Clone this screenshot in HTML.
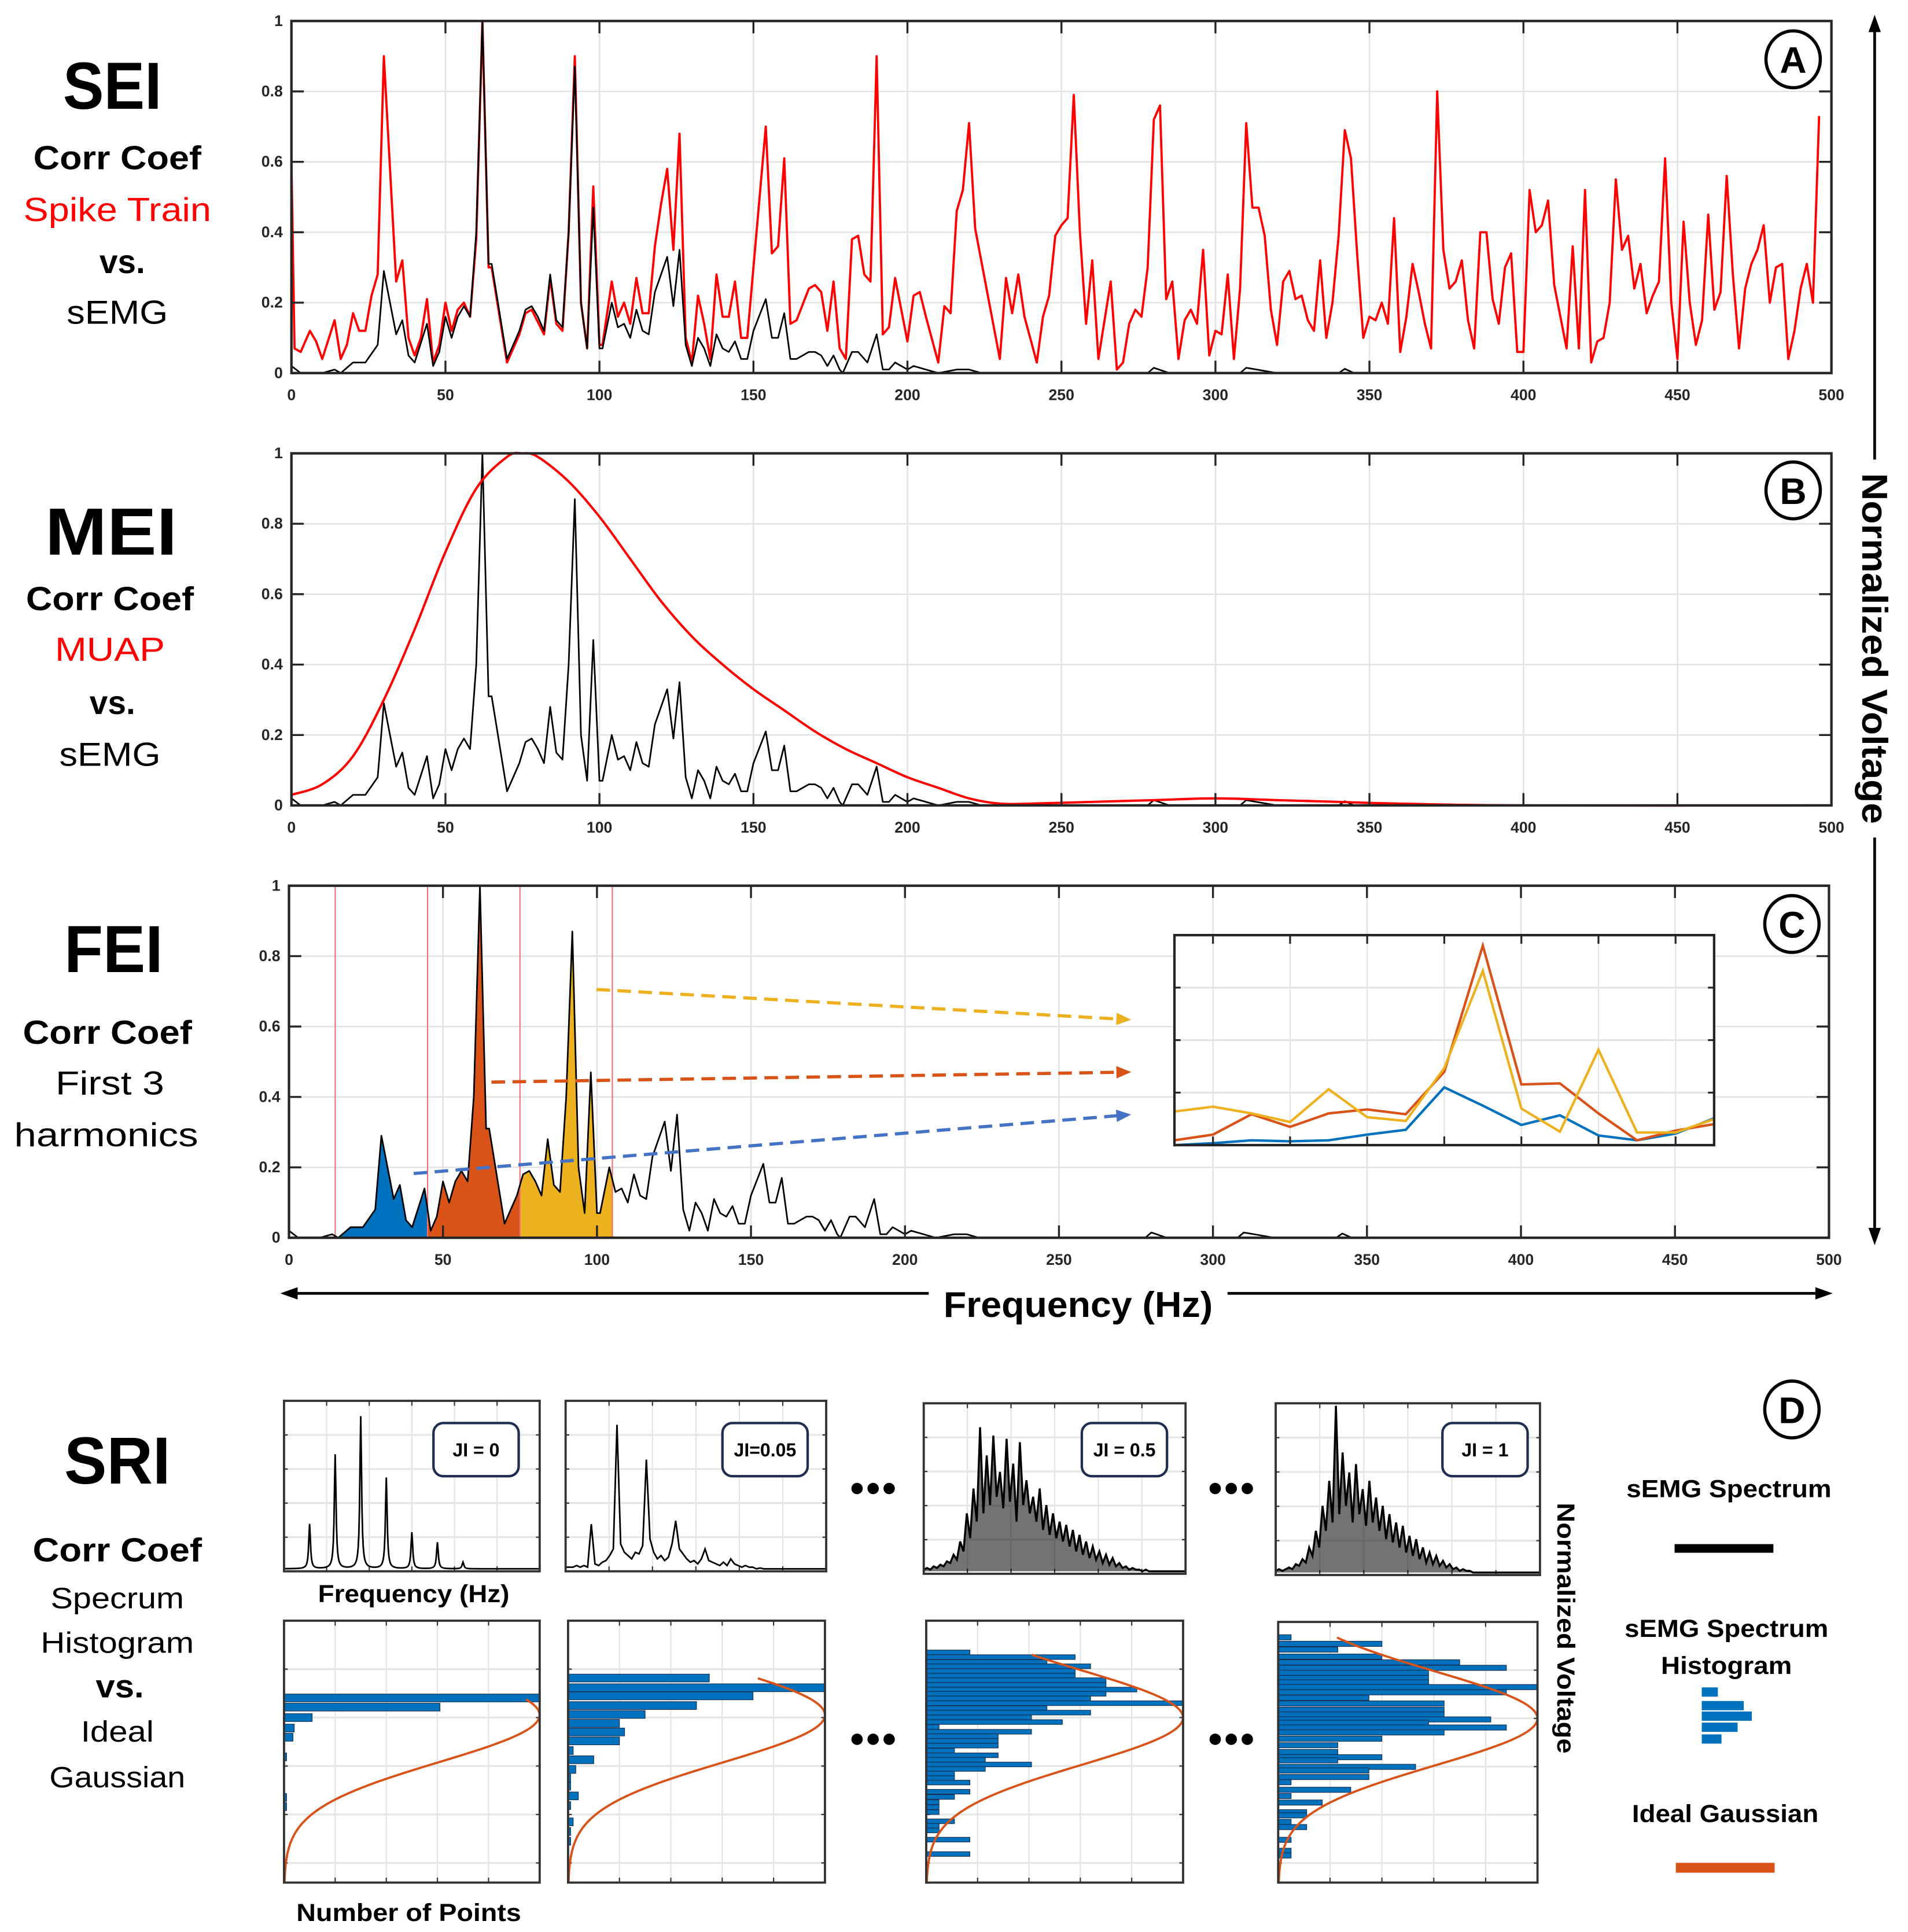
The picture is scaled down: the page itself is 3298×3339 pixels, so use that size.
<!DOCTYPE html>
<html><head><meta charset="utf-8"><title>Spectral correlation indices figure</title>
<style>
html,body{margin:0;padding:0;background:#fff;}
svg{display:block;}
text{font-family:"Liberation Sans",sans-serif;}
</style></head>
<body>
<svg id="fig" xmlns="http://www.w3.org/2000/svg" width="3298" height="3339" viewBox="0 0 1545 1564" preserveAspectRatio="none">
<rect x="0" y="0" width="1545" height="1564" fill="#fff"/>

<g text-anchor="middle" font-weight="bold">
<text x="91" y="88" font-size="54" textLength="80" lengthAdjust="spacingAndGlyphs">SEI</text>
<text x="95" y="137" font-size="27" textLength="136" lengthAdjust="spacingAndGlyphs">Corr Coef</text>
<text x="95" y="179" font-size="27" font-weight="normal" fill="#ff0000" textLength="152" lengthAdjust="spacingAndGlyphs">Spike Train</text>
<text x="99" y="221" font-size="27" textLength="37" lengthAdjust="spacingAndGlyphs">vs.</text>
<text x="95" y="262" font-size="27" font-weight="normal" textLength="82" lengthAdjust="spacingAndGlyphs">sEMG</text>
</g>
<g text-anchor="middle" font-weight="bold">
<text x="90" y="449" font-size="54" textLength="107" lengthAdjust="spacingAndGlyphs">MEI</text>
<text x="89" y="494" font-size="27" textLength="136" lengthAdjust="spacingAndGlyphs">Corr Coef</text>
<text x="89" y="535" font-size="27" font-weight="normal" fill="#ff0000" textLength="89" lengthAdjust="spacingAndGlyphs">MUAP</text>
<text x="91" y="578" font-size="27" textLength="37" lengthAdjust="spacingAndGlyphs">vs.</text>
<text x="89" y="620" font-size="27" font-weight="normal" textLength="82" lengthAdjust="spacingAndGlyphs">sEMG</text>
</g>
<g text-anchor="middle" font-weight="bold">
<text x="92" y="787" font-size="54" textLength="80" lengthAdjust="spacingAndGlyphs">FEI</text>
<text x="87" y="845" font-size="27" textLength="137" lengthAdjust="spacingAndGlyphs">Corr Coef</text>
<text x="89" y="886" font-size="27" font-weight="normal" textLength="88" lengthAdjust="spacingAndGlyphs">First 3</text>
<text x="86" y="928" font-size="27" font-weight="normal" textLength="149" lengthAdjust="spacingAndGlyphs">harmonics</text>
</g>
<g text-anchor="middle" font-weight="bold">
<text x="95" y="1201" font-size="54" textLength="86" lengthAdjust="spacingAndGlyphs">SRI</text>
<text x="95" y="1264" font-size="27" textLength="137" lengthAdjust="spacingAndGlyphs">Corr Coef</text>
<text x="95" y="1302" font-size="24" font-weight="normal" textLength="108" lengthAdjust="spacingAndGlyphs">Specrum</text>
<text x="95" y="1338" font-size="24" font-weight="normal" textLength="124" lengthAdjust="spacingAndGlyphs">Histogram</text>
<text x="97" y="1374" font-size="26" textLength="39" lengthAdjust="spacingAndGlyphs">vs.</text>
<text x="95" y="1410" font-size="24" font-weight="normal" textLength="59" lengthAdjust="spacingAndGlyphs">Ideal</text>
<text x="95" y="1447" font-size="24" font-weight="normal" textLength="110" lengthAdjust="spacingAndGlyphs">Gaussian</text>
</g>

<g id="plots"></g>

<g>
<line x1="1518" y1="22" x2="1518" y2="998" stroke="#000" stroke-width="2.2"/>
<polygon points="1518,12 1513,26 1523,26" fill="#000"/>
<polygon points="1518,1008 1513,994 1523,994" fill="#000"/>
<rect x="1503" y="372" width="30" height="306" fill="#fff"/>
<text transform="translate(1508,525) rotate(90)" text-anchor="middle" font-size="29" font-weight="bold" textLength="284" lengthAdjust="spacingAndGlyphs">Normalized Voltage</text>
</g>
<g>
<line x1="236" y1="1047" x2="1474" y2="1047" stroke="#000" stroke-width="2.2"/>
<polygon points="227,1047 241,1042 241,1052" fill="#000"/>
<polygon points="1484,1047 1470,1042 1470,1052" fill="#000"/>
<rect x="752" y="1030" width="242" height="40" fill="#fff"/>
<text x="873" y="1066" text-anchor="middle" font-size="29" font-weight="bold" textLength="218" lengthAdjust="spacingAndGlyphs">Frequency (Hz)</text>
</g>

<g><ellipse cx="1452" cy="48" rx="22" ry="23" fill="#fff" stroke="#000" stroke-width="2.6"/><text x="1452" y="59" text-anchor="middle" font-size="30" font-weight="bold">A</text></g>
<g><ellipse cx="1452" cy="397" rx="22" ry="23" fill="#fff" stroke="#000" stroke-width="2.6"/><text x="1452" y="408" text-anchor="middle" font-size="30" font-weight="bold">B</text></g>
<g><ellipse cx="1451" cy="748" rx="22" ry="23" fill="#fff" stroke="#000" stroke-width="2.6"/><text x="1451" y="759" text-anchor="middle" font-size="30" font-weight="bold">C</text></g>
<g><ellipse cx="1451" cy="1141" rx="22" ry="23" fill="#fff" stroke="#000" stroke-width="2.6"/><text x="1451" y="1152" text-anchor="middle" font-size="30" font-weight="bold">D</text></g>

<text x="335" y="1297" text-anchor="middle" font-size="20" font-weight="bold" textLength="155" lengthAdjust="spacingAndGlyphs">Frequency (Hz)</text>
<text x="331" y="1555" text-anchor="middle" font-size="20" font-weight="bold" textLength="182" lengthAdjust="spacingAndGlyphs">Number of Points</text>
<text transform="translate(1261,1318) rotate(90)" text-anchor="middle" font-size="20" font-weight="bold" textLength="203" lengthAdjust="spacingAndGlyphs">Normalized Voltage</text>
<text x="1400" y="1212" text-anchor="middle" font-size="20" font-weight="bold" textLength="166" lengthAdjust="spacingAndGlyphs">sEMG Spectrum</text>
<rect x="1356" y="1250" width="80" height="7" fill="#000"/>
<text x="1398" y="1325" text-anchor="middle" font-size="20" font-weight="bold" textLength="165" lengthAdjust="spacingAndGlyphs">sEMG Spectrum</text>
<text x="1398" y="1355" text-anchor="middle" font-size="20" font-weight="bold" textLength="106" lengthAdjust="spacingAndGlyphs">Histogram</text>
<g fill="#0072BD">
<rect x="1378" y="1366" width="13" height="7.5"/><rect x="1378" y="1377" width="34" height="7.5"/><rect x="1378" y="1385.5" width="40.5" height="7.5"/><rect x="1378" y="1394.5" width="29" height="7.5"/><rect x="1378" y="1404" width="16" height="7.5"/>
</g>
<text x="1397" y="1475" text-anchor="middle" font-size="20" font-weight="bold" textLength="151" lengthAdjust="spacingAndGlyphs">Ideal Gaussian</text>
<rect x="1357" y="1508" width="80" height="8" fill="#D95319"/>
<g fill="#000">
<circle cx="694" cy="1205" r="4.6"/><circle cx="707" cy="1205" r="4.6"/><circle cx="720" cy="1205" r="4.6"/>
<circle cx="984" cy="1205" r="4.6"/><circle cx="997" cy="1205" r="4.6"/><circle cx="1010" cy="1205" r="4.6"/>
<circle cx="694" cy="1408" r="4.6"/><circle cx="707" cy="1408" r="4.6"/><circle cx="720" cy="1408" r="4.6"/>
<circle cx="984" cy="1408" r="4.6"/><circle cx="997" cy="1408" r="4.6"/><circle cx="1010" cy="1408" r="4.6"/>
</g>
</svg>

<script>
// ---------- data ----------
const xTickVals = [0,50,100,150,200,250,300,350,400,450,500];
const xTickLabels = ['0','50','100','150','200','250','300','350','400','450','500'];
const yTickVals = [0,0.2,0.4,0.6,0.8,1];
const yTickLabels = ['0','0.2','0.4','0.6','0.8','1'];

const semgFreq = [0,3,10,14,16,20,24,28,30,34,36,38,40,44,46,48,50,52,54,56,58,60,62,64,65,70,74,76,78,80,82,84,86,88,90,92,94,96,98,100,101,104,106,108,110,112,114,116,118,122,124,126,128,130,132,134,136,138,140,142,144,146,148,150,154,156,158,160,162,164,168,170,172,174,176,178,179,182,184,187,190,192,194,196,200,202,206,210,216,220,224,250,278,280,285,308,310,320,340,342,345,500];
const semgVal  = [0.02,0,0,0.01,0,0.03,0.03,0.08,0.29,0.11,0.15,0.05,0.03,0.14,0.02,0.06,0.16,0.10,0.16,0.19,0.16,0.40,1.0,0.31,0.31,0.04,0.12,0.18,0.19,0.16,0.12,0.28,0.15,0.13,0.40,0.87,0.20,0.07,0.47,0.07,0.07,0.20,0.13,0.14,0.10,0.18,0.12,0.11,0.23,0.33,0.19,0.35,0.08,0.02,0.10,0.07,0.02,0.11,0.07,0.06,0.09,0.04,0.04,0.12,0.21,0.10,0.10,0.17,0.04,0.04,0.06,0.06,0.05,0.02,0.05,0.01,0,0.06,0.06,0.03,0.11,0.01,0.01,0.03,0.01,0.02,0.01,0,0.01,0.01,0,0,0,0.015,0,0,0.015,0,0,0.012,0,0];

const spikeFreq = [0,1,3,6,8,10,14,16,18,20,22,24,26,28,30,34,36,38,40,42,44,46,48,50,52,54,56,58,60,62,64,65,70,74,76,78,82,84,86,88,90,92,94,96,98,100,101,104,106,108,110,112,114,116,118,120,122,124,126,128,130,132,134,136,138,140,142,144,146,148,150,154,156,158,160,162,164,168,170,172,174,176,178,180,182,184,186,188,190,192,194,196,200,202,204,206,210,212,214,216,218,220,222,230,232,234,236,238,242,244,246,248,250,252,254,256,258,260,262,266,268,270,272,274,276,278,280,282,284,286,288,290,292,294,296,298,300,302,304,306,308,310,312,314,316,318,320,322,324,326,328,330,332,334,336,338,340,342,344,346,348,350,352,354,356,358,360,362,364,366,368,370,372,374,376,378,380,382,384,386,388,390,392,394,396,398,400,402,404,406,408,410,412,414,416,418,420,422,424,426,428,430,432,434,436,438,440,442,444,446,448,450,452,454,456,458,460,462,464,466,468,470,472,474,476,478,480,482,484,486,488,490,492,494,496,500];
const spikeVal  = [0.6,0.07,0.06,0.12,0.09,0.04,0.15,0.04,0.08,0.17,0.12,0.12,0.22,0.28,0.9,0.26,0.32,0.1,0.05,0.1,0.21,0.03,0.08,0.2,0.12,0.18,0.2,0.16,0.38,1.0,0.3,0.3,0.03,0.11,0.17,0.18,0.11,0.27,0.14,0.12,0.4,0.9,0.2,0.07,0.53,0.08,0.08,0.26,0.16,0.2,0.14,0.27,0.17,0.17,0.36,0.48,0.58,0.35,0.68,0.1,0.03,0.22,0.14,0.04,0.28,0.16,0.16,0.26,0.1,0.1,0.3,0.7,0.34,0.36,0.61,0.14,0.15,0.24,0.25,0.23,0.12,0.26,0.07,0.04,0.38,0.39,0.28,0.26,0.9,0.11,0.13,0.27,0.09,0.22,0.23,0.16,0.03,0.19,0.17,0.46,0.52,0.71,0.41,0.04,0.27,0.17,0.28,0.16,0.03,0.16,0.22,0.39,0.42,0.44,0.79,0.4,0.14,0.32,0.04,0.26,0.01,0.03,0.14,0.18,0.16,0.3,0.72,0.76,0.21,0.26,0.04,0.15,0.18,0.14,0.35,0.05,0.12,0.11,0.28,0.04,0.24,0.71,0.47,0.47,0.39,0.18,0.08,0.26,0.29,0.21,0.22,0.15,0.12,0.32,0.1,0.2,0.39,0.69,0.61,0.34,0.1,0.16,0.15,0.2,0.14,0.44,0.06,0.16,0.31,0.23,0.14,0.07,0.8,0.35,0.24,0.26,0.32,0.15,0.07,0.4,0.4,0.21,0.14,0.3,0.34,0.06,0.06,0.52,0.4,0.42,0.49,0.25,0.16,0.07,0.36,0.07,0.52,0.03,0.09,0.1,0.2,0.55,0.35,0.39,0.24,0.31,0.17,0.22,0.26,0.61,0.2,0.04,0.43,0.2,0.08,0.15,0.45,0.18,0.23,0.56,0.28,0.07,0.24,0.31,0.35,0.42,0.2,0.3,0.31,0.04,0.12,0.24,0.31,0.2,0.73];

const muapFreq = [0,10,20,30,40,50,60,70,75,80,90,100,110,120,130,140,150,160,170,180,190,200,210,220,230,240,260,280,300,320,340,360,400,500];
const muapVal  = [0.03,0.06,0.14,0.3,0.5,0.72,0.9,0.99,1,0.99,0.92,0.82,0.7,0.58,0.48,0.4,0.33,0.27,0.21,0.16,0.12,0.08,0.05,0.02,0.005,0.005,0.01,0.015,0.02,0.015,0.01,0.005,0,0];

const harmonicBounds = [15,45,75,105];
const insetOrange = [0.023,0.05,0.147,0.087,0.151,0.17,0.147,0.349,0.95,0.289,0.294,0.151,0.023,0.069,0.1];
const insetYellow = [0.16,0.183,0.151,0.11,0.266,0.133,0.115,0.367,0.83,0.174,0.064,0.454,0.06,0.06,0.124];
const insetBlue   = [0,0.009,0.023,0.018,0.023,0.05,0.073,0.275,0.188,0.096,0.142,0.046,0.023,0.055,0.128];

const ji0Pos = [0.1,0.2,0.3,0.4,0.5,0.6,0.7];
const ji0Amp = [0.27,0.69,0.92,0.55,0.22,0.16,0.04];
const ji005Spec = [.01,.01,.01,.02,.01,.02,.01,.27,.03,.02,.04,.05,.08,.12,.87,.15,.1,.08,.06,.1,.09,.14,.66,.18,.1,.06,.08,.05,.07,.15,.29,.12,.09,.06,.04,.05,.03,.06,.12,.05,.04,.03,.02,.04,.02,.06,.03,.02,.01,.02,.01,.01,0,.005,0,0,0,0,0,0,0,0,0,0,0,0,0,0,0,0,0,0];
const ji05Spec = [.01,.02,.01,.03,.02,.04,.03,.06,.05,.1,.07,.18,.12,.35,.2,.5,.3,.87,.35,.7,.4,.82,.45,.6,.38,.8,.42,.65,.3,.78,.4,.55,.35,.45,.3,.5,.25,.4,.22,.35,.2,.3,.18,.28,.15,.25,.12,.22,.1,.18,.08,.15,.07,.12,.05,.1,.04,.08,.03,.05,.02,.03,.01,.02,.01,.01,0,.01,0,0,0,0,0,0,0,0,0,0,0,0];
const ji1Spec = [.01,.02,.01,.02,.03,.02,.05,.04,.08,.06,.15,.1,.25,.15,.4,.25,.55,.3,1.0,.35,.72,.4,.6,.3,.65,.35,.5,.28,.55,.3,.45,.25,.4,.2,.35,.18,.3,.15,.28,.12,.22,.1,.2,.08,.15,.06,.12,.05,.1,.04,.07,.03,.05,.02,.03,.01,.02,.01,.01,0,0,0,0,0,0,0,0,0,0,0,0,0,0,0,0,0,0,0,0,0];

const hist0Bins = [0.72,0.685,0.645,0.605,0.57,0.495,0.34,0.305];
const hist0Counts = [1.0,0.61,0.11,0.04,0.035,0.01,0.01,0.01];
const hist005Bins = [0.796,0.759,0.728,0.691,0.657,0.623,0.59,0.556,0.519,0.484,0.447,0.414,0.383,0.346,0.309,0.247,0.21,0.173];
const hist005Counts = [0.55,1.0,0.72,0.5,0.3,0.2,0.22,0.2,0.02,0.1,0.03,0.01,0.01,0.04,0.01,0.02,0.01,0.01];
const hist05Bins = [.888,.870,.851,.835,.817,.799,.782,.764,.746,.730,.712,.694,.675,.658,.640,.622,.603,.585,.568,.550,.532,.513,.495,.478,.460,.443,.425,.408,.391,.356,.336,.316,.297,.278,.243,.226,.208,.173,.118];
const hist05Counts = [.17,.58,.47,.64,.58,.58,.70,.70,.82,.70,.64,1.0,.47,.64,.41,.53,.05,.41,.28,.28,.28,.11,.28,.23,.41,.23,.11,.11,.17,.17,.11,.05,.05,.05,.11,.05,.05,.17,.17];
const hist1Bins = [.951,.926,.904,.877,.855,.834,.815,.795,.778,.760,.740,.719,.697,.673,.655,.636,.623,.605,.586,.562,.537,.511,.491,.479,.454,.440,.415,.395,.366,.342,.317,.280,.268,.243,.223,.174,.132,.114];
const hist1Counts = [.05,.4,.23,.4,.7,.88,.58,.58,.58,1.0,.88,.35,.64,.64,.64,.82,.58,.88,.64,.4,.23,.23,.4,.23,.53,.35,.35,.05,.28,.05,.17,.11,.11,.05,.11,.05,.05,.05];
const gaussMu = [0.36,0.36,0.37,0.37];
const gaussSigma = [0.18,0.18,0.18,0.18];
const gaussStart = [0.3,0.22,0.13,0.06];

// ---------- helpers ----------
const NS = 'http://www.w3.org/2000/svg';
const root = document.getElementById('plots');
function mk(parent, tag, attrs){ const e=document.createElementNS(NS,tag); for(const k in attrs) e.setAttribute(k,attrs[k]); parent.appendChild(e); return e; }
function interp(fs, vs, f){ for(let i=0;i<fs.length-1;i++){ if(f>=fs[i]&&f<=fs[i+1]){ const t=(f-fs[i])/(fs[i+1]-fs[i]||1); return vs[i]+t*(vs[i+1]-vs[i]); } } return vs[vs.length-1]; }

function axes(L,R,T,B,name){
  const g = mk(root,'g',{});
  
  
  const sx = f => L + f/500*(R-L);
  const sy = v => B - v*(B-T);
  const grid = mk(g,'g',{stroke:'#e3e3e3','stroke-width':1.2});
  
  
  xTickVals.forEach((f,i)=>{
    if(i>0 && i<xTickVals.length-1) mk(grid,'line',{x1:sx(f),x2:sx(f),y1:T,y2:B});
    const tl = mk(g,'text',{x:sx(f),y:B+22,'text-anchor':'middle','font-size':12.5,'font-weight':'bold',fill:'#262626'});
    tl.textContent = xTickLabels[i];
    
    
  });
  yTickVals.forEach((v,i)=>{
    if(i>0 && i<yTickVals.length-1) mk(grid,'line',{x1:L,x2:R,y1:sy(v),y2:sy(v)});
    const tl = mk(g,'text',{x:L-7,y:sy(v)+4,'text-anchor':'end','font-size':12.5,'font-weight':'bold',fill:'#262626'});
    tl.textContent = yTickLabels[i];
    
    
  });
  const marks = mk(root,'g',{});
  
  
  return {g, marks, sx, sy, L,R,T,B, name};
}
function finishAxes(ax){
  const tk = mk(root,'g',{stroke:'#262626','stroke-width':1.6});
  
  
  xTickVals.forEach(f=>{ mk(tk,'line',{x1:ax.sx(f),x2:ax.sx(f),y1:ax.B,y2:ax.B-10}); mk(tk,'line',{x1:ax.sx(f),x2:ax.sx(f),y1:ax.T,y2:ax.T+10}); });
  yTickVals.forEach(v=>{ mk(tk,'line',{x1:ax.L,x2:ax.L+10,y1:ax.sy(v),y2:ax.sy(v)}); mk(tk,'line',{x1:ax.R,x2:ax.R-10,y1:ax.sy(v),y2:ax.sy(v)}); });
  const box = mk(root,'rect',{x:ax.L,y:ax.T,width:ax.R-ax.L,height:ax.B-ax.T,fill:'none',stroke:'#262626','stroke-width':2});
  
  
}
function line(ax, fs, vs, color, w, name){
  const pts = fs.map((f,i)=>ax.sx(f).toFixed(2)+','+ax.sy(vs[i]).toFixed(2)).join(' ');
  const p = mk(ax.marks,'polyline',{points:pts,fill:'none',stroke:color,'stroke-width':w,'stroke-linejoin':'round'});
  
  
}
function smoothLine(ax, fs, vs, color, w, name){
  const P = fs.map((f,i)=>[ax.sx(f), ax.sy(vs[i])]);
  let d = 'M'+P[0][0].toFixed(2)+','+P[0][1].toFixed(2);
  for(let i=0;i<P.length-1;i++){
    const p0=P[Math.max(0,i-1)], p1=P[i], p2=P[i+1], p3=P[Math.min(P.length-1,i+2)];
    const c1=[p1[0]+(p2[0]-p0[0])/6, p1[1]+(p2[1]-p0[1])/6];
    const c2=[p2[0]-(p3[0]-p1[0])/6, p2[1]-(p3[1]-p1[1])/6];
    d += ' C'+c1[0].toFixed(2)+','+c1[1].toFixed(2)+' '+c2[0].toFixed(2)+','+c2[1].toFixed(2)+' '+p2[0].toFixed(2)+','+p2[1].toFixed(2);
  }
  const p = mk(ax.marks,'path',{d:d,fill:'none',stroke:color,'stroke-width':w});
  
  
}

// Panel A
const axA = axes(236,1483,17,302,'panel-a-sei');
line(axA, spikeFreq, spikeVal, '#ff0000', 1.8, 'spike-train-line');
line(axA, semgFreq, semgVal, '#000', 1.3, 'semg-spectrum-line-a');
finishAxes(axA);

// Panel B
const axB = axes(236,1483,367,652,'panel-b-mei');
line(axB, semgFreq, semgVal, '#000', 1.3, 'semg-spectrum-line-b');
smoothLine(axB, muapFreq, muapVal, '#ff0000', 1.9, 'muap-line');
finishAxes(axB);

// Panel C
const axC = axes(234,1481,717,1002,'panel-c-fei');
const fillColors = ['#0072BD','#D95319','#EDB120'];
const fillNames = ['harmonic-1-fill','harmonic-2-fill','harmonic-3-fill'];
for(let h=0; h<harmonicBounds.length-1; h++){
  const a=harmonicBounds[h], b=harmonicBounds[h+1];
  const fs=[a]; semgFreq.forEach(f=>{ if(f>a&&f<b) fs.push(f); }); fs.push(b);
  let pts = axC.sx(a)+','+axC.sy(0)+' ';
  pts += fs.map(f=>axC.sx(f).toFixed(2)+','+axC.sy(interp(semgFreq,semgVal,f)).toFixed(2)).join(' ');
  pts += ' '+axC.sx(b)+','+axC.sy(0);
  const poly = mk(axC.marks,'polygon',{points:pts,fill:fillColors[h]});
  
  
}
harmonicBounds.forEach(f=>{
  const ln = mk(axC.marks,'line',{x1:axC.sx(f),x2:axC.sx(f),y1:axC.T,y2:axC.B,stroke:'#f07070','stroke-width':1});
  
  
});
line(axC, semgFreq, semgVal, '#000', 1.3, 'semg-spectrum-line-c');
finishAxes(axC);

const arrows = [[483,801,907,825,'#EDB120','yellow-dashed-arrow'],[398,876,907,868,'#D95319','orange-dashed-arrow'],[335,950,907,903,'#4472C4','blue-dashed-arrow']];
arrows.forEach(a=>{
  const g = mk(root,'g',{});
  
  
  mk(g,'line',{x1:a[0],y1:a[1],x2:a[2],y2:a[3],stroke:a[4],'stroke-width':2.6,'stroke-dasharray':'11 6'});
  const ang=Math.atan2(a[3]-a[1],a[2]-a[0]); const tx=a[2]+9*Math.cos(ang), ty=a[3]+9*Math.sin(ang);
  const p1=[tx-12*Math.cos(ang)+5*Math.sin(ang), ty-12*Math.sin(ang)-5*Math.cos(ang)];
  const p2=[tx-12*Math.cos(ang)-5*Math.sin(ang), ty-12*Math.sin(ang)+5*Math.cos(ang)];
  mk(g,'polygon',{points:tx+','+ty+' '+p1[0]+','+p1[1]+' '+p2[0]+','+p2[1],fill:a[4]});
});

(function(){
  const L=951,R=1388,T=757,B=927;
  const g = mk(root,'g',{});
  
  
  mk(g,'rect',{x:L,y:T,width:R-L,height:B-T,fill:'#fff'});
  const n = insetBlue.length;
  const ix = i => L + i/(n-1)*(R-L);
  const iy = v => B - v*(B-T);
  for(let i=1;i<n;i+=2){ mk(g,'line',{x1:ix(i),x2:ix(i),y1:T,y2:B,stroke:'#e3e3e3','stroke-width':1}); }
  [0.25,0.5,0.75].forEach(v=>mk(g,'line',{x1:L,x2:R,y1:iy(v),y2:iy(v),stroke:'#e3e3e3','stroke-width':1.5}));
  const series=[[insetBlue,'#0072BD','inset-blue-line'],[insetOrange,'#D95319','inset-orange-line'],[insetYellow,'#EDB120','inset-yellow-line']];
  series.forEach(s=>{
    const p = mk(g,'polyline',{points:s[0].map((v,i)=>ix(i).toFixed(2)+','+iy(v).toFixed(2)).join(' '),fill:'none',stroke:s[1],'stroke-width':2});
    
    
  });
  for(let i=1;i<n;i+=2){ mk(g,'line',{x1:ix(i),x2:ix(i),y1:T,y2:T+7,stroke:'#262626','stroke-width':1.5}); mk(g,'line',{x1:ix(i),x2:ix(i),y1:B,y2:B-7,stroke:'#262626','stroke-width':1.5}); }
  [0.25,0.5,0.75].forEach(v=>{ mk(g,'line',{x1:L,x2:L+5,y1:iy(v),y2:iy(v),stroke:'#262626','stroke-width':1.5}); mk(g,'line',{x1:R,x2:R-5,y1:iy(v),y2:iy(v),stroke:'#262626','stroke-width':1.5}); });
  mk(g,'rect',{x:L,y:T,width:R-L,height:B-T,fill:'none',stroke:'#262626','stroke-width':2});
})();

// Panel D
function dBox(L,T,R,B,cols,rows,name){
  const g = mk(root,'g',{});
  
  
  for(let i=1;i<cols;i++){ const x=L+i/cols*(R-L); mk(g,'line',{x1:x,x2:x,y1:T,y2:B,stroke:'#e3e3e3','stroke-width':1}); mk(g,'line',{x1:x,x2:x,y1:T,y2:T+4,stroke:'#333','stroke-width':1}); mk(g,'line',{x1:x,x2:x,y1:B,y2:B-4,stroke:'#333','stroke-width':1}); }
  rows.forEach(r=>{ const y=T+r*(B-T); mk(g,'line',{x1:L,x2:R,y1:y,y2:y,stroke:'#e6e6e6','stroke-width':1.6}); mk(g,'line',{x1:L,x2:L+3,y1:y,y2:y,stroke:'#333','stroke-width':1}); mk(g,'line',{x1:R,x2:R-3,y1:y,y2:y,stroke:'#333','stroke-width':1}); });
  return {g,L,T,R,B,W:R-L,H:B-T};
}
function frame(b,name){
  const r = mk(root,'rect',{x:b.L,y:b.T,width:b.W,height:b.H,fill:'none',stroke:'#333','stroke-width':1.8});
  
  
}
function jiLabel(x,y,txt,name){
  const g = mk(root,'g',{});
  
  
  mk(g,'rect',{x:x,y:y,width:69,height:43,rx:8,fill:'#fff',stroke:'#1f2d4f','stroke-width':2});
  const t = mk(g,'text',{x:x+34.5,y:y+27,'text-anchor':'middle','font-size':15,'font-weight':'bold'});
  t.textContent = txt;
}
function spectrumLine(b, vals, name, dense){
  const n=vals.length;
  const arr = vals.map((v,i)=>(b.L+i/(n-1)*b.W).toFixed(2)+','+(b.B-2-v*(b.H-4)).toFixed(2));
  if(dense){
    const f = mk(b.g,'polygon',{points:b.L+','+(b.B-2)+' '+arr.join(' ')+' '+b.R+','+(b.B-2),fill:'#000','fill-opacity':0.55});
    
    
  }
  const p = mk(b.g,'polyline',{points:arr.join(' '),fill:'none',stroke:'#000','stroke-width':dense?1.6:1.3,'stroke-linejoin':'miter'});
  
  
}
const topRows=[0.2,0.4,0.6,0.8];
const botRows=[0.185,0.37,0.555,0.74,0.925];

const s1 = dBox(230,1134,437,1272,6,topRows,'ji0-spectrum-box');
(function(){
  const pts=[];
  for(let k=0;k<=400;k++){
    const xf=k/400; let v=0;
    ji0Pos.forEach((p,i)=>{ v += ji0Amp[i]/(1+Math.pow((xf-p)/0.004,2)); });
    pts.push((s1.L+xf*s1.W).toFixed(2)+','+(s1.B-2-Math.min(v,1)*(s1.H-4)).toFixed(2));
  }
  const p = mk(s1.g,'polyline',{points:pts.join(' '),fill:'none',stroke:'#000','stroke-width':1.3});
  
  
})();
frame(s1,'ji0-spectrum-frame');
const s2 = dBox(458,1134,669,1272,6,topRows,'ji005-spectrum-box');
spectrumLine(s2, ji005Spec, 'ji005-spectrum-line', false); frame(s2,'ji005-spectrum-frame');
const s3 = dBox(748,1136,960,1274,6,topRows,'ji05-spectrum-box');
spectrumLine(s3, ji05Spec, 'ji05-spectrum-line', true); frame(s3,'ji05-spectrum-frame');
const s4 = dBox(1033,1136,1247,1275,6,topRows,'ji1-spectrum-box');
spectrumLine(s4, ji1Spec, 'ji1-spectrum-line', true); frame(s4,'ji1-spectrum-frame');
jiLabel(351,1152,'JI = 0','ji0-label');
jiLabel(585,1152,'JI=0.05','ji005-label');
jiLabel(876,1152,'JI = 0.5','ji05-label');
jiLabel(1168,1152,'JI = 1','ji1-label');

function histBox(L,T,R,B,bins,counts,thick,gi,name){
  const b = dBox(L,T,R,B,5,botRows,name+'-box');
  bins.forEach((v,i)=>{
    const y = b.T + (1-v)*b.H;
    const r = mk(b.g,'rect',{x:b.L,y:y.toFixed(2),width:(counts[i]*b.W).toFixed(2),height:thick*b.H,fill:'#0072BD',stroke:'#1a2a4a','stroke-width':0.5});
    
    
  });
  const pts=[];
  for(let yf=gaussStart[gi]; yf<=1.0001; yf+=0.01){
    const x = Math.exp(-Math.pow((yf-gaussMu[gi])/gaussSigma[gi],2)/2);
    pts.push((b.L+x*b.W).toFixed(2)+','+(b.T+yf*b.H).toFixed(2));
  }
  const g = mk(b.g,'polyline',{points:pts.join(' '),fill:'none',stroke:'#D95319','stroke-width':1.8});
  
  
  frame(b, name+'-frame');
}
histBox(230,1312,437,1524,hist0Bins,hist0Counts,0.03,0,'ji0-histogram');
histBox(460,1312,668,1524,hist005Bins,hist005Counts,0.03,1,'ji005-histogram');
histBox(750,1312,958,1524,hist05Bins,hist05Counts,0.018,2,'ji05-histogram');
histBox(1035,1313,1245,1524,hist1Bins,hist1Counts,0.02,3,'ji1-histogram');
</script>
</body></html>
